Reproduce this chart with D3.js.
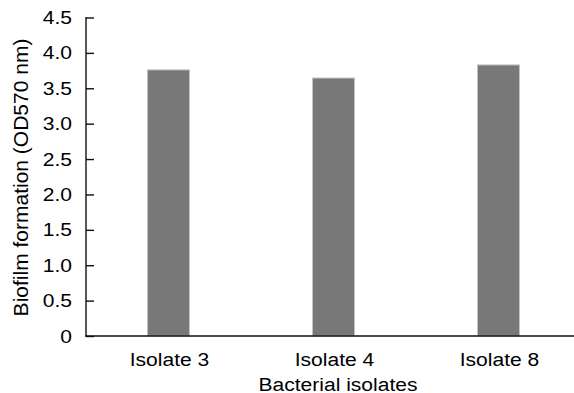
<!DOCTYPE html>
<html>

<head>
    <title>Biofilm formation</title>
    <script src="https://d3js.org/d3.v7.min.js"></script>
    <style>
        body { margin: 0; background: #fff; }
        text { font-family: "Liberation Sans", Arial, sans-serif; fill: #000; }
    </style>
</head>

<body>
    <svg id="chart"></svg>

    <script>
        // datos
        var isolates = ["Isolate 3", "Isolate 4", "Isolate 8"];
        var biofilm = [3.76, 3.645, 3.83];
        var yTicks = [0, 0.5, 1.0, 1.5, 2.0, 2.5, 3.0, 3.5, 4.0, 4.5];

        var data = isolates.map(function(d, i) { return { name: d, value: biofilm[i] }; });

        var W = 574, H = 393;
        var plotLeft = 86, plotBottom = 336, plotTop = 17.5;

        var svg = d3.select("#chart")
            .attr("width", W)
            .attr("height", H);

        // escalas
        var x = d3.scaleBand()
            .domain(isolates)
            .range([plotLeft, plotLeft + 495])
            .paddingInner(0.745)
            .paddingOuter(0.3725);

        var y = d3.scaleLinear()
            .domain([0, 4.5])
            .range([plotBottom, plotTop]);

        // barras
        svg.append("g")
            .selectAll("rect")
            .data(data)
            .enter().append("rect")
            .attr("x", d => x(d.name))
            .attr("y", d => y(d.value))
            .attr("width", x.bandwidth())
            .attr("height", d => y(0) - y(d.value))
            .attr("fill", "#787878")
            .attr("stroke", "#c4c4c4")
            .attr("stroke-width", 1);

        // eje Y
        var yAxis = svg.append("g")
            .attr("transform", "translate(" + plotLeft + ",0)")
            .call(d3.axisLeft(y)
                .tickValues(yTicks)
                .tickSize(-8)
                .tickPadding(14)
                .tickFormat(d => d === 0 ? "0" : d3.format(".1f")(d)));
        yAxis.select(".domain").remove();
        yAxis.selectAll("line").attr("stroke", "#111").attr("stroke-width", 1.4);
        yAxis.selectAll("text").attr("font-size", 18.8).attr("font-family", null);

        svg.append("line")
            .attr("x1", plotLeft).attr("x2", plotLeft)
            .attr("y1", plotTop - 0.5).attr("y2", plotBottom + 0.7)
            .attr("stroke", "#111").attr("stroke-width", 1.4);

        // eje X
        svg.append("line")
            .attr("x1", plotLeft - 0.7).attr("x2", W)
            .attr("y1", plotBottom).attr("y2", plotBottom)
            .attr("stroke", "#111").attr("stroke-width", 1.4);

        svg.append("g")
            .selectAll("text")
            .data(isolates)
            .enter().append("text")
            .attr("class", "xlab")
            .attr("x", d => x(d) + x.bandwidth() / 2 + 1)
            .attr("y", 366)
            .attr("text-anchor", "middle")
            .attr("font-size", 18.8)
            .text(d => d);

        // titulos
        svg.append("text")
            .attr("class", "xlab")
            .attr("x", 338)
            .attr("y", 390.5)
            .attr("text-anchor", "middle")
            .attr("font-size", 18.8)
            .text("Bacterial isolates");

        svg.append("text")
            .attr("transform", "translate(27.5,177.5) rotate(-90)")
            .attr("text-anchor", "middle")
            .attr("font-size", 21)
            .text("Biofilm formation (OD570 nm)");

        // el texto original es algo mas ancho
        svg.selectAll(".xlab, .tick text").each(function() {
            var w = this.getComputedTextLength();
            d3.select(this)
                .attr("textLength", w * 1.12)
                .attr("lengthAdjust", "spacingAndGlyphs");
        });
    </script>
</body>

</html>
